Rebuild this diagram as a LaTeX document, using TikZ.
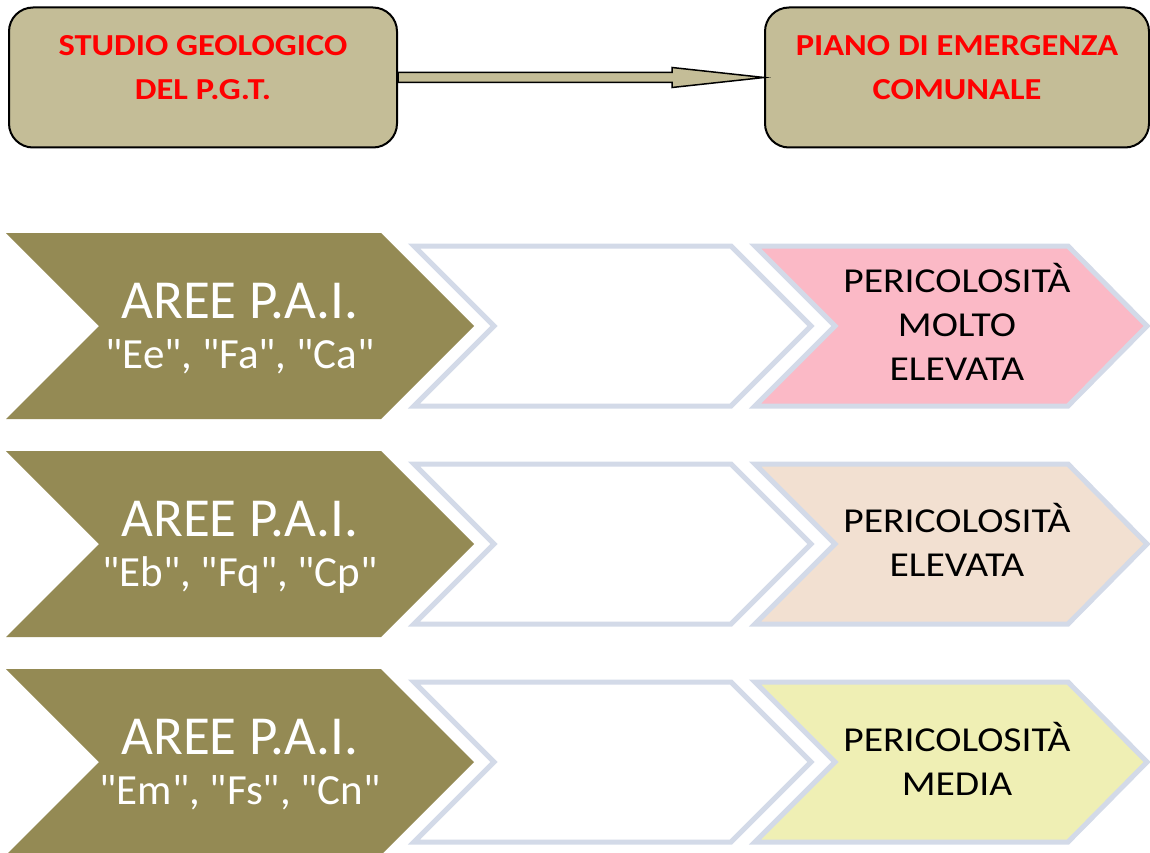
\documentclass[tikz,border=0pt]{standalone}
\usepackage{fontspec}
\setmainfont{Carlito}
\newfontfamily\widecarlito[FakeStretch=1.13]{Carlito}
\usetikzlibrary{calc}

\definecolor{boxtan}{HTML}{C4BD97}
\definecolor{paiolive}{HTML}{948A54}
\definecolor{chevline}{HTML}{D3DAE8}
\definecolor{riskpink}{HTML}{FBB9C6}
\definecolor{riskpeach}{HTML}{F2E0D1}
\definecolor{riskyellow}{HTML}{EFEFB4}

\tikzset{
  topbox/.style={draw=black, line width=2pt, fill=boxtan, rounded corners=24pt,
    minimum height=140pt, inner sep=0pt},
  toptext/.style={text=red, align=center,
    font=\widecarlito\bfseries\fontsize{30.5}{44}\selectfont},
  arrowbody/.style={draw=black, line width=1.5pt, fill=boxtan, line join=miter},
  chevron/.style={draw=chevline, line width=5pt, fill=white},
  areetext/.style={text=white, anchor=base, inner sep=0pt, font=\fontsize{55}{55}\selectfont},
  codetext/.style={text=white, anchor=base, inner sep=0pt, font=\fontsize{43}{43}\selectfont},
  risktext/.style={text=black, anchor=base, align=center, inner sep=0pt,
    font=\widecarlito\fontsize{35}{44}\selectfont}
}
\newcommand{\qq}[1]{\textquotedbl#1\textquotedbl}

\begin{document}
\begin{tikzpicture}[x=1pt, y=-1pt]
  \useasboundingbox (0,0) rectangle (1150,853);
  % Top boxes
  \node[topbox, minimum width=388pt] (studio) at (203,77.5) {};
  \node[topbox, minimum width=384pt] (piano) at (957,77.5) {};
  \node[toptext] (studiotxt) at ([yshift=10pt]studio.center) {STUDIO GEOLOGICO\\DEL P.G.T.};
  \node[toptext] (pianotxt) at ([yshift=10pt]piano.center) {PIANO DI EMERGENZA\\COMUNALE};
  % Arrow between the boxes
  \draw[arrowbody] ($(studio.east)+(0,-5)$) -- ($(piano.west)+(-92,-5)$)
    -- ($(piano.west)+(-92,-10)$) -- (piano.west) -- ($(piano.west)+(-92,10)$)
    -- ($(piano.west)+(-92,5)$) -- ($(studio.east)+(0,5)$) -- cycle;
  % Rows of chevrons (risk text sits on the baseline of its last line)
  \foreach \cy/\codes/\risk/\ry/\riskcol [count=\i] in {
      326/{\qq{Ee}, \qq{Fa}, \qq{Ca}}/{PERICOLOSITÀ\\MOLTO\\ELEVATA}/54/riskpink,
      544/{\qq{Eb}, \qq{Fq}, \qq{Cp}}/{PERICOLOSITÀ\\ELEVATA}/32/riskpeach,
      762/{\qq{Em}, \qq{Fs}, \qq{Cn}}/{PERICOLOSITÀ\\MEDIA}/33/riskyellow}{
    \fill[paiolive] (6,\cy-93) -- (381,\cy-93) -- (474,\cy) -- (381,\cy+93)
      -- (6,\cy+93) -- (99,\cy) -- cycle;
    \draw[chevron] (414,\cy-80) -- (731,\cy-80) -- (811,\cy) -- (731,\cy+80)
      -- (414,\cy+80) -- (494,\cy) -- cycle;
    \draw[chevron, fill=\riskcol] (755,\cy-80) -- (1068,\cy-80) -- (1147,\cy)
      -- (1068,\cy+80) -- (755,\cy+80) -- (835,\cy) -- cycle;
    \node[areetext] (aree\i) at (240,\cy-8) {AREE P.A.I.};
    \node[codetext] (codes\i) at (240,\cy+42) {\codes};
    \node[risktext] (risk\i) at (957,\cy+\ry) {\risk};
  }
\end{tikzpicture}
\end{document}
